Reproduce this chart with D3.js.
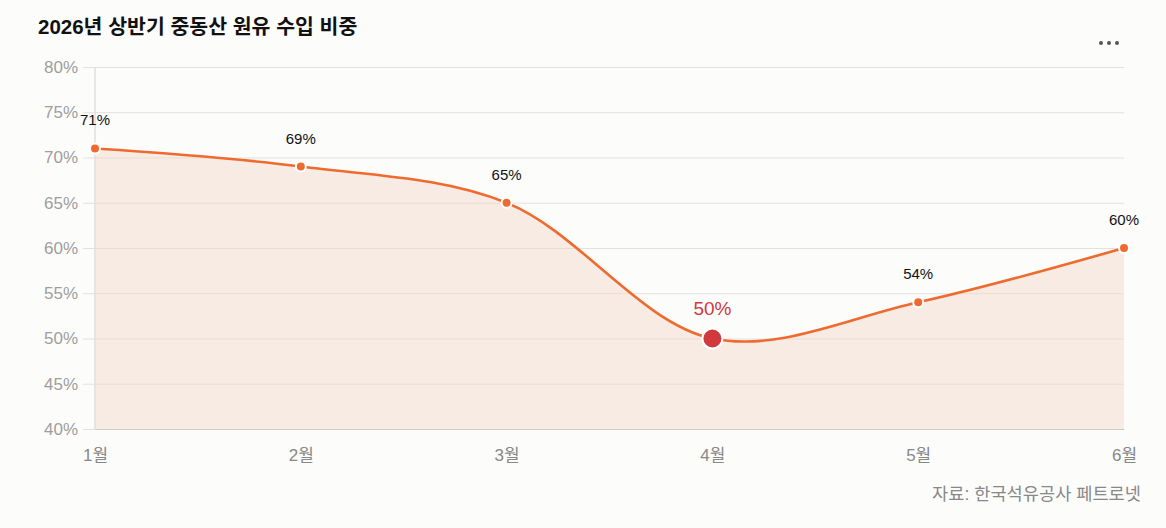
<!DOCTYPE html>
<html>
<head>
<meta charset="utf-8">
<script src="https://cdn.jsdelivr.net/npm/d3@7"></script>
<style>
  body { margin: 0; background: #fcfcfb; }
  svg { display: block; }
  text { font-family: "Liberation Sans", "Noto Sans CJK KR", sans-serif; }
</style>
</head>
<body>
<svg id="chart" width="1166" height="528"></svg>
<script>
// data
const months = ["1월", "2월", "3월", "4월", "5월", "6월"]
const shares = [71, 69, 65, 50, 54, 60]
const highlightIndex = 3
const yTicks = [40, 45, 50, 55, 60, 65, 70, 75, 80]

const svg = d3.select("#chart")
const plotLeft = 95, plotRight = 1124, plotTop = 67, plotBottom = 429

const x = d3.scalePoint().domain(months).range([plotLeft, plotRight])
const y = d3.scaleLinear().domain([40, 80]).range([plotBottom, plotTop])

// title
svg.append("text")
  .attr("x", 38).attr("y", 34)
  .attr("font-family", "'Noto Sans CJK KR', sans-serif")
  .attr("font-size", 20.5).attr("font-weight", 700).attr("fill", "#111")
  .text("2026년 상반기 중동산 원유 수입 비중")

// menu dots
;[1101, 1109, 1117].forEach(cx => {
  svg.append("circle").attr("cx", cx).attr("cy", 43).attr("r", 2).attr("fill", "#555")
})

// gridlines (y axis)
const yAxis = d3.axisLeft(y).tickValues(yTicks).tickFormat(d => d + "%")
  .tickSize(-(plotRight - plotLeft + 12)).tickPadding(5)
const gy = svg.append("g").attr("transform", `translate(${plotLeft - 12},0)`).call(yAxis)
gy.select(".domain").remove()
gy.selectAll(".tick line").attr("stroke", "#e2e1dc")
gy.selectAll(".tick text").attr("fill", "#9e9e9e").attr("font-size", 17)
  .attr("font-family", "'Liberation Sans', sans-serif")

// area + line
const curve = d3.curveCatmullRom.alpha(0.5)
const area = d3.area()
  .x((d, i) => x(months[i])).y0(y(40)).y1(d => y(d)).curve(curve)
const line = d3.line()
  .x((d, i) => x(months[i])).y(d => y(d)).curve(curve)

svg.append("path").datum(shares).attr("d", area)
  .attr("fill", "#f5d6c6").attr("fill-opacity", 0.45)

// left axis line and bottom axis line
svg.append("line").attr("x1", plotLeft).attr("x2", plotLeft).attr("y1", plotTop).attr("y2", plotBottom)
  .attr("stroke", "#e2e1dc").attr("stroke-width", 1.5)

const xAxis = d3.axisBottom(x).tickSize(0).tickPadding(20)
const gx = svg.append("g").attr("transform", `translate(0,${plotBottom})`).call(xAxis)
gx.select(".domain").attr("stroke", "#d0cbc4").attr("stroke-width", 1.2)
gx.selectAll(".tick text").attr("fill", "#888").attr("font-size", 17)
  .attr("font-family", "'Liberation Sans', 'Noto Sans CJK KR', sans-serif")

svg.append("path").datum(shares).attr("d", line)
  .attr("fill", "none").attr("stroke", "#ee6a2e").attr("stroke-width", 2.6)

// points
svg.selectAll("circle.pt").data(shares).join("circle")
  .attr("class", "pt")
  .attr("cx", (d, i) => x(months[i])).attr("cy", d => y(d))
  .attr("r", (d, i) => i === highlightIndex ? 10 : 5)
  .attr("fill", (d, i) => i === highlightIndex ? "#d0393e" : "#ee6a2e")
  .attr("stroke", "#fff").attr("stroke-width", 2)

// value labels
svg.selectAll("text.lbl").data(shares).join("text")
  .attr("class", "lbl")
  .attr("x", (d, i) => x(months[i]))
  .attr("y", (d, i) => y(d) - (i === highlightIndex ? 24 : 23))
  .attr("text-anchor", "middle")
  .attr("font-family", "'Liberation Sans', sans-serif")
  .attr("font-size", (d, i) => i === highlightIndex ? 19 : 15)
  .attr("fill", (d, i) => i === highlightIndex ? "#d0393e" : "#111")
  .text(d => d + "%")

// source
svg.append("text")
  .attr("x", 1141).attr("y", 500).attr("text-anchor", "end")
  .attr("font-family", "'Noto Sans CJK KR', sans-serif")
  .attr("font-size", 17.6).attr("fill", "#888")
  .text("자료: 한국석유공사 페트로넷")
</script>
</body>
</html>
